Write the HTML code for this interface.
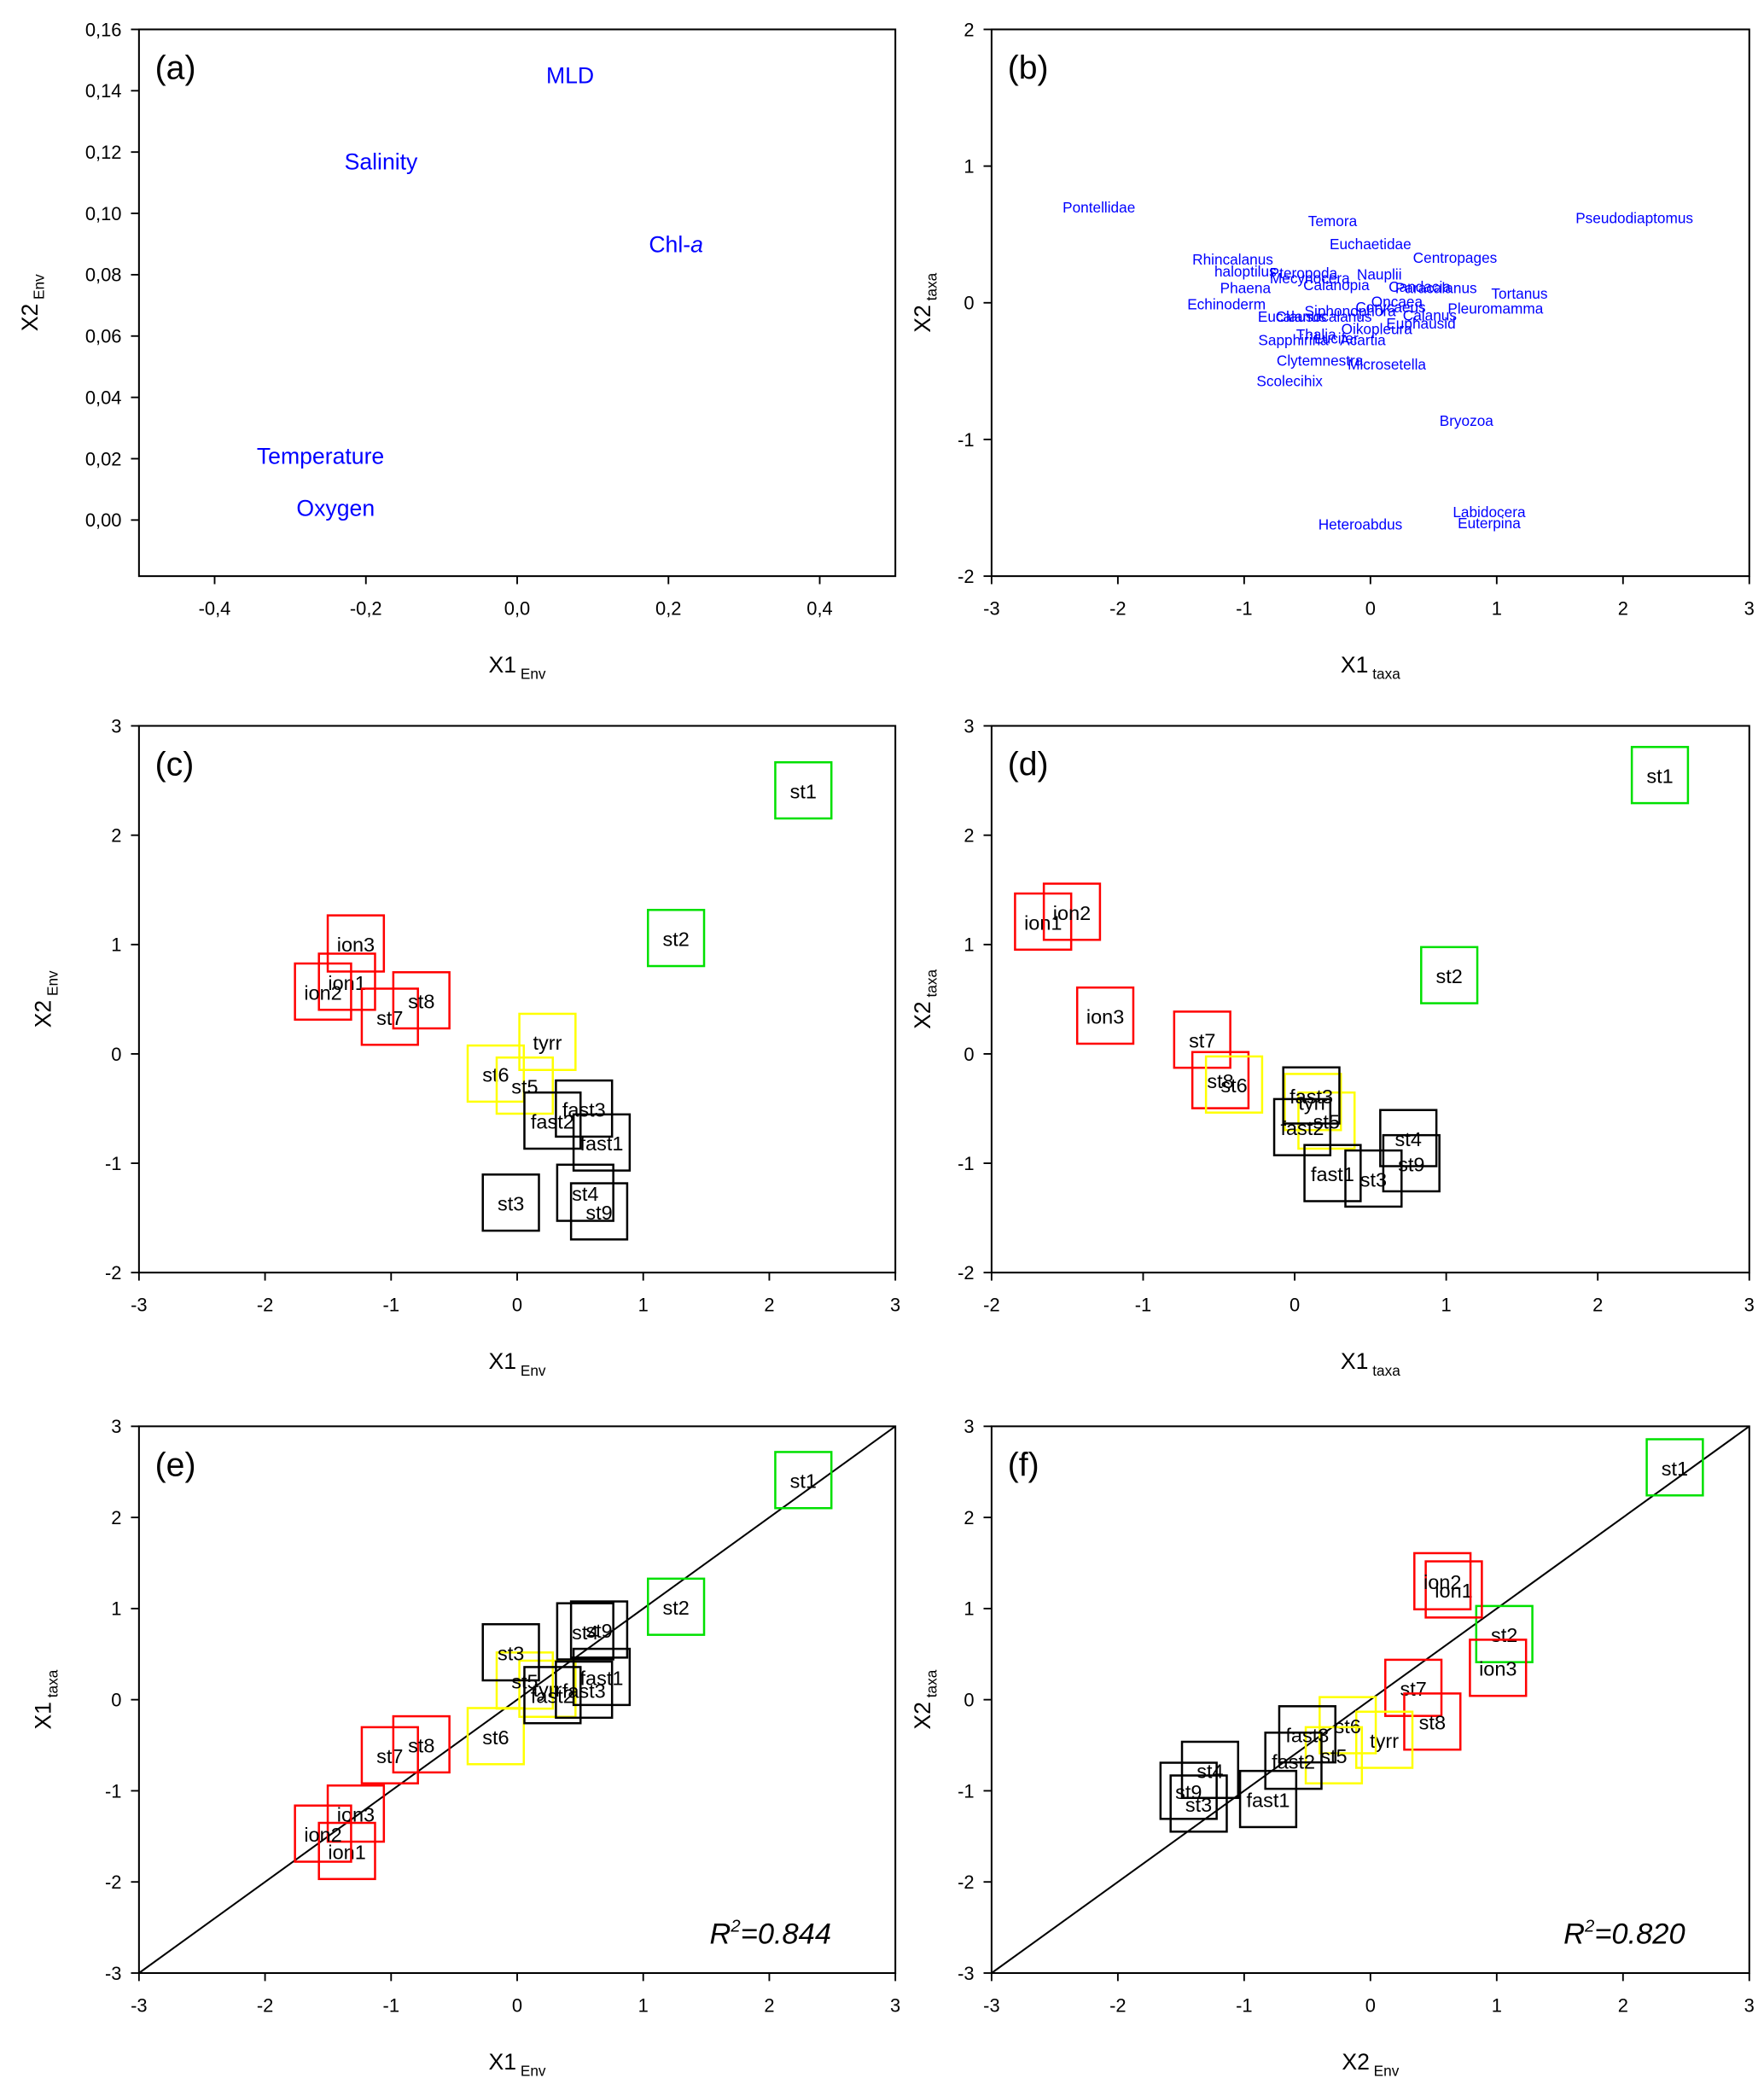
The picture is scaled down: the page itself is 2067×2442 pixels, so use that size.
<!DOCTYPE html>
<html><head><meta charset="utf-8">
<style>
html,body{margin:0;padding:0;background:#fff;}
svg{display:block;font-family:"Liberation Sans",Arial,sans-serif;}
</style></head>
<body>
<svg id="fig" width="2067" height="2442" viewBox="0 0 1320 1559" preserveAspectRatio="none" xmlns="http://www.w3.org/2000/svg"></svg>
<script>
// ---- Data ----
const envVarNames = ["MLD","Salinity","Chl-a","Temperature","Oxygen"];
const envVarX = [0.07,-0.18,0.21,-0.26,-0.24];
const envVarY = [0.145,0.117,0.090,0.021,0.004];

const taxaNames = ["Pontellidae","Temora","Pseudodiaptomus","Euchaetidae","Centropages","Rhincalanus","haloptilus","Pteropoda","Nauplii","Mecynocera","Phaena","Calanopia","Candacia","Paracalanus","Tortanus","Echinoderm","Oncaea","Corycaeus","Pleuromamma","Calanus","Eucalanus","Clausocalanus","Siphonophora","Euphausid","Oikopleura","Thalia","Sapphirina","Lucifer","Acartia","Clytemnestra","Microsetella","Scolecihix","Bryozoa","Labidocera","Heteroabdus","Euterpina"];
const taxaX = [-2.15,-0.30,2.09,0,0.67,-1.09,-0.99,-0.53,0.07,-0.48,-0.99,-0.27,0.39,0.52,1.18,-1.14,0.21,0.16,0.99,0.47,-0.62,-0.37,-0.16,0.40,0.05,-0.43,-0.61,-0.27,-0.06,-0.40,0.13,-0.64,0.76,0.94,-0.08,0.94];
const taxaY = [0.70,0.60,0.62,0.43,0.33,0.32,0.23,0.22,0.21,0.18,0.11,0.13,0.12,0.11,0.07,-0.01,0.01,-0.03,-0.04,-0.09,-0.10,-0.10,-0.06,-0.15,-0.19,-0.23,-0.27,-0.26,-0.27,-0.42,-0.45,-0.57,-0.86,-1.53,-1.62,-1.61];

const stations = ["st1","st2","ion3","ion1","ion2","st7","st8","tyrr","st6","st5","fast2","fast3","fast1","st3","st4","st9"];
const stationGroup = ["g","g","r","r","r","r","r","y","y","y","k","k","k","k","k","k"];
const x1Env = [2.27,1.26,-1.28,-1.35,-1.54,-1.01,-0.76,0.24,-0.17,0.06,0.28,0.53,0.67,-0.05,0.54,0.65];
const x2Env = [2.41,1.06,1.01,0.66,0.57,0.34,0.49,0.11,-0.18,-0.29,-0.61,-0.50,-0.81,-1.36,-1.27,-1.44];
const x1Taxa = [2.41,1.02,-1.25,-1.66,-1.47,-0.61,-0.49,0.12,-0.40,0.21,0.05,0.11,0.25,0.52,0.75,0.77];
const x2Taxa = [2.55,0.72,0.35,1.21,1.30,0.13,-0.24,-0.44,-0.28,-0.61,-0.67,-0.38,-1.09,-1.14,-0.77,-1.00];
const r2Labels = ["0.844","0.820"];

const colorMap = {g:"#00e000",r:"#ff0000",y:"#ffff00",k:"#000000"};
const svg = document.getElementById('fig');
const NS = "http://www.w3.org/2000/svg";
function mk(tag, attrs, parent){
  const e = document.createElementNS(NS, tag);
  for (const k in attrs) e.setAttribute(k, attrs[k]);
  (parent||svg).appendChild(e);
  return e;
}
const fmtC = v => v.toFixed(2).replace('.',',').replace('-0,00','0,00');
const fmtC1 = v => v.toFixed(1).replace('.',',').replace('-0,0','0,0');
const fmtI = v => String(Math.round(v));
function rng(a,b,s){const r=[];for(let v=a;v<=b+1e-9;v+=s)r.push(+v.toFixed(4));return r;}

function makePanel(p){
  const g = mk('g',{});
  
  
  const sx = v => p.x0 + (v - p.xmin)/(p.xmax - p.xmin)*(p.x1 - p.x0);
  const sy = v => p.y1 - (v - p.ymin)/(p.ymax - p.ymin)*(p.y1 - p.y0);
  const fr = mk('rect',{x:p.x0,y:p.y0,width:p.x1-p.x0,height:p.y1-p.y0,fill:'none',stroke:'#000','stroke-width':1.3},g);
  
  
  p.xticks.forEach(t=>{
    const X = sx(t);
    mk('line',{x1:X,x2:X,y1:p.y1,y2:p.y1+6,stroke:'#000','stroke-width':1.2},g);
    const tl = mk('text',{x:X,y:p.y1+29,'text-anchor':'middle','font-size':14},g);
    tl.textContent = p.fmtX(t);
    
    
  });
  p.yticks.forEach(t=>{
    const Y = sy(t);
    mk('line',{x1:p.x0-6,x2:p.x0,y1:Y,y2:Y,stroke:'#000','stroke-width':1.2},g);
    const tl = mk('text',{x:p.x0-13,y:Y+5,'text-anchor':'end','font-size':14},g);
    tl.textContent = p.fmtY(t);
    
    
  });
  const lab = mk('text',{x:p.x0+12,y:p.y0+37,'font-size':25},g);
  lab.textContent = '('+p.id+')';
  
  
  const xt = mk('text',{x:(p.x0+p.x1)/2,y:p.y1+72,'text-anchor':'middle','font-size':17},g);
  xt.innerHTML = p.xl + '<tspan font-size="11" dy="5"> '+p.xs+'</tspan>';
  
  
  const cy = (p.y0+p.y1)/2;
  const yt = mk('text',{x:0,y:0,'text-anchor':'middle','font-size':17,transform:'translate('+(p.x0-p.yoff)+','+cy+') rotate(-90)'},g);
  yt.innerHTML = p.yl + '<tspan font-size="11" dy="5"> '+p.ys+'</tspan>';
  
  
  return {g,sx,sy};
}

// (a)
const pa = makePanel({id:'a',x0:104,x1:670,y0:22,y1:431,xmin:-0.5,xmax:0.5,ymin:-0.0183,ymax:0.16,
  xticks:rng(-0.4,0.4,0.2),yticks:rng(0,0.16,0.02),fmtX:fmtC1,fmtY:fmtC,xl:'X1',xs:'Env',yl:'X2',ys:'Env',yoff:76});
envVarNames.forEach((n,i)=>{
  const t = mk('text',{x:pa.sx(envVarX[i]),y:pa.sy(envVarY[i])+6,'text-anchor':'middle','font-size':17,fill:'#0000ff'},pa.g);
  t.innerHTML = n==='Chl-a' ? 'Chl-<tspan font-style="italic">a</tspan>' : n;
  
  
});
// (b)
const pb = makePanel({id:'b',x0:742,x1:1309,y0:22,y1:431,xmin:-3,xmax:3,ymin:-2,ymax:2,
  xticks:rng(-3,3,1),yticks:rng(-2,2,1),fmtX:fmtI,fmtY:fmtI,xl:'X1',xs:'taxa',yl:'X2',ys:'taxa',yoff:46});
taxaNames.forEach((n,i)=>{
  const t = mk('text',{x:pb.sx(taxaX[i]),y:pb.sy(taxaY[i])+4,'text-anchor':'middle','font-size':11,fill:'#0000ff'},pb.g);
  t.textContent = n;
  
  
});
function drawStations(P, xs, ys){
  stations.forEach((s,i)=>{
    const X = P.sx(xs[i]), Y = P.sy(ys[i]);
    const r = mk('rect',{x:X-21,y:Y-21,width:42,height:42,fill:'none',stroke:colorMap[stationGroup[i]],'stroke-width':1.6},P.g);
    
    
    const t = mk('text',{x:X,y:Y+6,'text-anchor':'middle','font-size':15},P.g);
    t.textContent = s;
    
    
  });
}
// (c)
const pc = makePanel({id:'c',x0:104,x1:670,y0:543,y1:952,xmin:-3,xmax:3,ymin:-2,ymax:3,
  xticks:rng(-3,3,1),yticks:rng(-2,3,1),fmtX:fmtI,fmtY:fmtI,xl:'X1',xs:'Env',yl:'X2',ys:'Env',yoff:66});
drawStations(pc, x1Env, x2Env);
// (d)
const pd = makePanel({id:'d',x0:742,x1:1309,y0:543,y1:952,xmin:-2,xmax:3,ymin:-2,ymax:3,
  xticks:rng(-2,3,1),yticks:rng(-2,3,1),fmtX:fmtI,fmtY:fmtI,xl:'X1',xs:'taxa',yl:'X2',ys:'taxa',yoff:46});
drawStations(pd, x1Taxa, x2Taxa);
// (e)
const pe = makePanel({id:'e',x0:104,x1:670,y0:1067,y1:1476,xmin:-3,xmax:3,ymin:-3,ymax:3,
  xticks:rng(-3,3,1),yticks:rng(-3,3,1),fmtX:fmtI,fmtY:fmtI,xl:'X1',xs:'Env',yl:'X1',ys:'taxa',yoff:66});
// (f)
const pf = makePanel({id:'f',x0:742,x1:1309,y0:1067,y1:1476,xmin:-3,xmax:3,ymin:-3,ymax:3,
  xticks:rng(-3,3,1),yticks:rng(-3,3,1),fmtX:fmtI,fmtY:fmtI,xl:'X2',xs:'Env',yl:'X2',ys:'taxa',yoff:46});
[pe,pf].forEach((P,k)=>{
  const l = mk('line',{x1:P.sx(-3),y1:P.sy(-3),x2:P.sx(3),y2:P.sy(3),stroke:'#000','stroke-width':1.3},P.g);
  
  
  const t = mk('text',{x:P.sx(3)-48,y:P.sy(-3)-22,'text-anchor':'end','font-size':22,'font-style':'italic'},P.g);
  t.innerHTML = 'R<tspan font-size="13" dy="-9">2</tspan><tspan dy="9">='+r2Labels[k]+'</tspan>';
  
  
});
drawStations(pe, x1Env, x1Taxa);
drawStations(pf, x2Env, x2Taxa);
</script>
</body></html>
